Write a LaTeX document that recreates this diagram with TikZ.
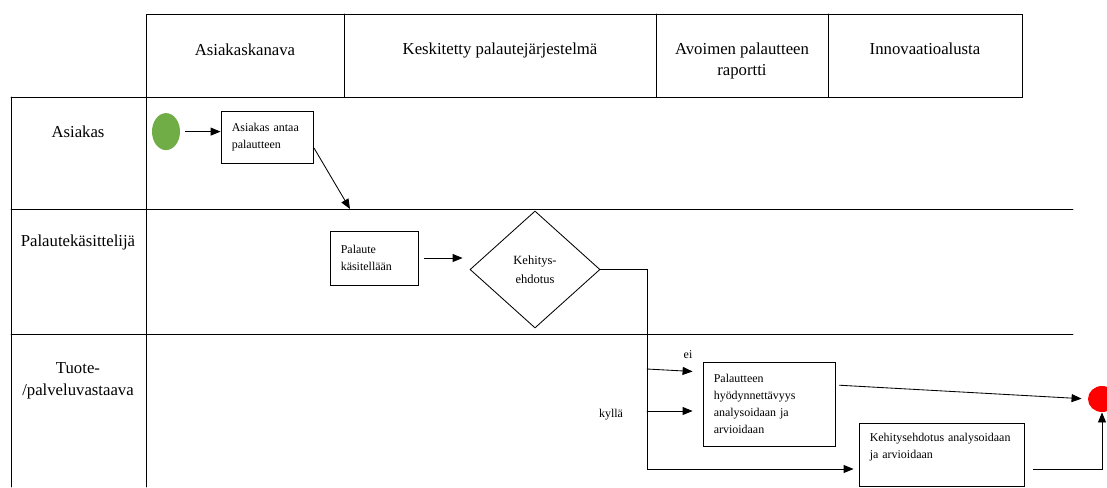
\documentclass[tikz,border=0pt]{standalone}
\usepackage{fontspec}
\setmainfont{Liberation Serif}
\usepackage{tikz}
\usetikzlibrary{arrows.meta}
\tikzset{>={Triangle[length=2.5mm,width=2mm]}}
\usetikzlibrary{shapes,positioning}
\definecolor{alkuvihrea}{HTML}{70AD47}
\tikzset{
  otsikko/.style={align=center,font=\fontsize{11.9}{15.6}\selectfont},
  laatikko/.style={draw,align=left,inner xsep=0.27cm,inner ysep=0pt,
    font=\fontsize{8.5}{12}\selectfont},
  pieni/.style={font=\fontsize{8.5}{12}\selectfont}
}

\begin{document}

\begin{tikzpicture}[line cap=round,line width=0.6pt]

  \useasboundingbox (0,0) rectangle (27.675,-12.175);

  \draw (3.65,-0.35) rectangle (25.55,-2.425);
  \draw (8.6,-0.35) -- (8.6,-2.425);
  \draw (16.4,-0.35) -- (16.4,-2.425);
  \draw (20.7,-0.35) -- (20.7,-2.425);

  \draw (0.275,-2.425) -- (3.65,-2.425);
  \draw (0.275,-2.425) -- (0.275,-12.175);
  \draw (3.65,-2.425) -- (3.65,-12.175);
  \draw (0.275,-5.225) -- (26.825,-5.225);
  \draw (0.275,-8.35) -- (26.825,-8.35);

  \node [otsikko] (kanava) at (6.125,-1.25) {Asiakaskanava};
  \node [otsikko] (jarjestelma) at (12.5,-1.25) {Keskitetty palautejärjestelmä};
  \node [otsikko] (raportti) at (18.55,-1.525) {Avoimen palautteen\\raportti};
  \node [otsikko] (alusta) at (23.125,-1.225) {Innovaatioalusta};

  \node [otsikko] (asiakas) at (1.95,-3.3) {Asiakas};
  \node [otsikko] (kasittelija) at (1.95,-6.05) {Palautekäsittelijä};
  \node [otsikko] (vastaava) at (1.95,-9.525) {Tuote-\\/palveluvastaava};

  \node [ellipse,fill=alkuvihrea,minimum width=0.7cm,minimum height=0.925cm,inner sep=0pt] (alku) at (4.15,-3.29) {};
  \node [laatikko,text width=1.76cm,minimum height=1.3cm] (antaa) at (6.675,-3.425) {Asiakas antaa\\palautteen};
  \node [laatikko,text width=1.66cm,minimum height=1.35cm] (kasittely) at (9.35,-6.45) {Palaute\\käsitellään};
  \node [diamond,draw,align=center,inner sep=0pt,minimum width=3.25cm,minimum height=2.925cm,
    font=\fontsize{8.9}{13.5}\selectfont] (ehdotus) at (13.375,-6.7375) {Kehitys-\\ehdotus};
  \node [laatikko,text width=2.76cm,minimum height=2.1cm] (hyoty) at (19.225,-10.1) {Palautteen\\hyödynnettävyys\\analysoidaan ja\\arvioidaan};
  \node [laatikko,text width=3.585cm,minimum height=1.575cm] (analyysi) at (23.5375,-11.3625) {Kehitysehdotus analysoidaan\\ja arvioidaan\\\mbox{}};
  \node [ellipse,fill=red,minimum width=0.7cm,minimum height=0.65cm,inner sep=0pt] (loppu) at (27.55,-9.975) {};

  \node [pieni] (ei) at (17.2,-8.875) {ei};
  \node [pieni] (kylla) at (15.275,-10.375) {kyllä};

  \coordinate (raja) at (8.75,-5.225);
  \coordinate (haara) at (16.175,-6.7375);
  \coordinate (eihaara) at (16.175,-9.225);
  \coordinate (kyllahaara) at (16.175,-10.275);
  \coordinate (kulma) at (16.175,-11.725);

  \draw [->,shorten <=0.125cm] (alku.east) -- (alku.east -| antaa.west);
  \draw [->,shorten <=1pt] ([yshift=-0.25cm]antaa.east) -- (raja);
  \draw [->,shorten <=0.15cm,shorten >=0.175cm] (kasittely.east) -- (kasittely.east -| ehdotus.west);
  \draw [->,shorten >=0.125cm] (ehdotus.east) -- (haara) -- (kulma) -- (kulma -| analyysi.west);
  \draw [->,shorten >=0.25cm] (eihaara) -- ([yshift=0.8cm]hyoty.west);
  \draw [->,shorten >=0.25cm] (kyllahaara) -- (kyllahaara -| hyoty.west);
  \draw [->,shorten <=0.1cm,shorten >=0.15cm] ([yshift=0.475cm]hyoty.east) -- (loppu.west);
  \draw [->,shorten <=0.225cm] ([yshift=-0.3625cm]analyysi.east) -| (loppu.south);

\end{tikzpicture}

\end{document}
